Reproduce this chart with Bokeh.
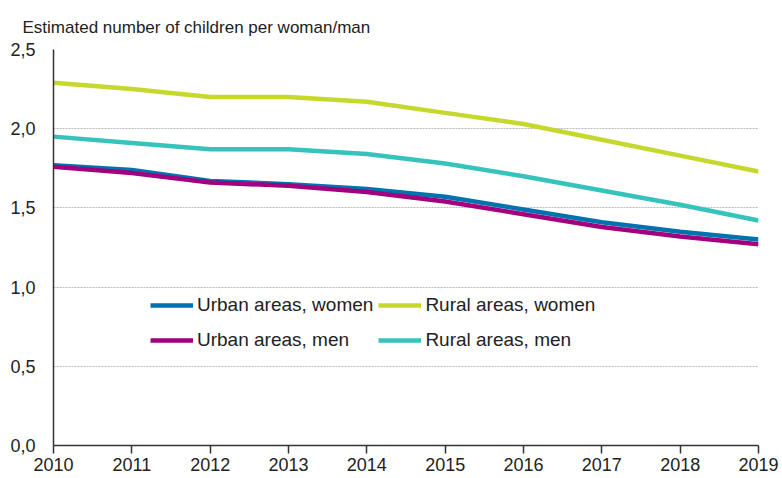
from bokeh.plotting import figure
from bokeh.models import Legend, LegendItem, FixedTicker, Range1d, Title
from bokeh.embed import file_html
from bokeh.resources import INLINE

years = [2010, 2011, 2012, 2013, 2014, 2015, 2016, 2017, 2018, 2019]
urban_women = [1.77, 1.74, 1.67, 1.65, 1.62, 1.57, 1.49, 1.41, 1.35, 1.30]
rural_women = [2.29, 2.25, 2.20, 2.20, 2.17, 2.10, 2.03, 1.93, 1.83, 1.73]
urban_men = [1.76, 1.72, 1.66, 1.64, 1.60, 1.54, 1.46, 1.38, 1.32, 1.27]
rural_men = [1.95, 1.91, 1.87, 1.87, 1.84, 1.78, 1.70, 1.61, 1.52, 1.42]
y_ticks = [0, 0.5, 1.0, 1.5, 2.0, 2.5]
y_tick_labels = ["0,0", "0,5", "1,0", "1,5", "2,0", "2,5"]
title_text = "Estimated number of children per woman/man"

FONT = "Liberation Sans"

p = figure(width=782, height=478, output_backend="svg", toolbar_location=None,
           x_range=Range1d(2010, 2019), y_range=Range1d(0, 2.5),
           min_border_left=53, min_border_right=24, min_border_top=49, min_border_bottom=33)
p.outline_line_color = None
p.background_fill_color = "white"

t = Title(text=title_text, text_font=FONT, text_font_size="17px", text_font_style="normal",
          text_color="#222222", align="left", offset=-31, standoff=26)
p.title = t

r_uw = p.line(years, urban_women, line_color="#0072AE", line_width=4.5)
r_um = p.line(years, urban_men, line_color="#A2007F", line_width=4.5)
r_rm = p.line(years, rural_men, line_color="#36C3BC", line_width=4.5)
r_rw = p.line(years, rural_women, line_color="#C5D82B", line_width=4.5)

p.xaxis.ticker = FixedTicker(ticks=years)
p.yaxis.ticker = FixedTicker(ticks=y_ticks)
p.yaxis.major_label_overrides = {v: s for v, s in zip(y_ticks, y_tick_labels)}
for ax in (p.xaxis, p.yaxis):
    ax.axis_line_color = "#333333"
    ax.axis_line_width = 1.5
    ax.major_label_text_font = FONT
    ax.major_label_text_font_size = "18px"
    ax.major_label_text_color = "#222222"
    ax.minor_tick_line_color = None
p.xaxis.major_tick_line_color = "#333333"
p.xaxis.major_tick_line_width = 1.5
p.xaxis.major_tick_out = 8
p.xaxis.major_tick_in = 0
p.xaxis.major_label_standoff = 4
p.yaxis.major_tick_line_color = None
p.yaxis.major_tick_out = 0
p.yaxis.major_tick_in = 0
p.yaxis.major_label_standoff = 18

p.xgrid.grid_line_color = None
p.ygrid.grid_line_color = "#BBBBBB"
p.ygrid.grid_line_dash = "2 1"
p.ygrid.grid_line_width = 1

legend = Legend(items=[
    LegendItem(label="Urban areas, women", renderers=[r_uw]),
    LegendItem(label="Rural areas, women", renderers=[r_rw]),
    LegendItem(label="Urban areas, men", renderers=[r_um]),
    LegendItem(label="Rural areas, men", renderers=[r_rm]),
], location=(97, 90), nrows=2, orientation="horizontal",
    label_text_font=FONT, label_text_font_size="19px", label_text_color="#222222",
    glyph_width=43, glyph_height=30, label_standoff=4, spacing=5, padding=0,
    border_line_color=None, background_fill_alpha=0, label_height=30)
p.add_layout(legend, "center")

open("out.html", "w").write(file_html(p, INLINE))
